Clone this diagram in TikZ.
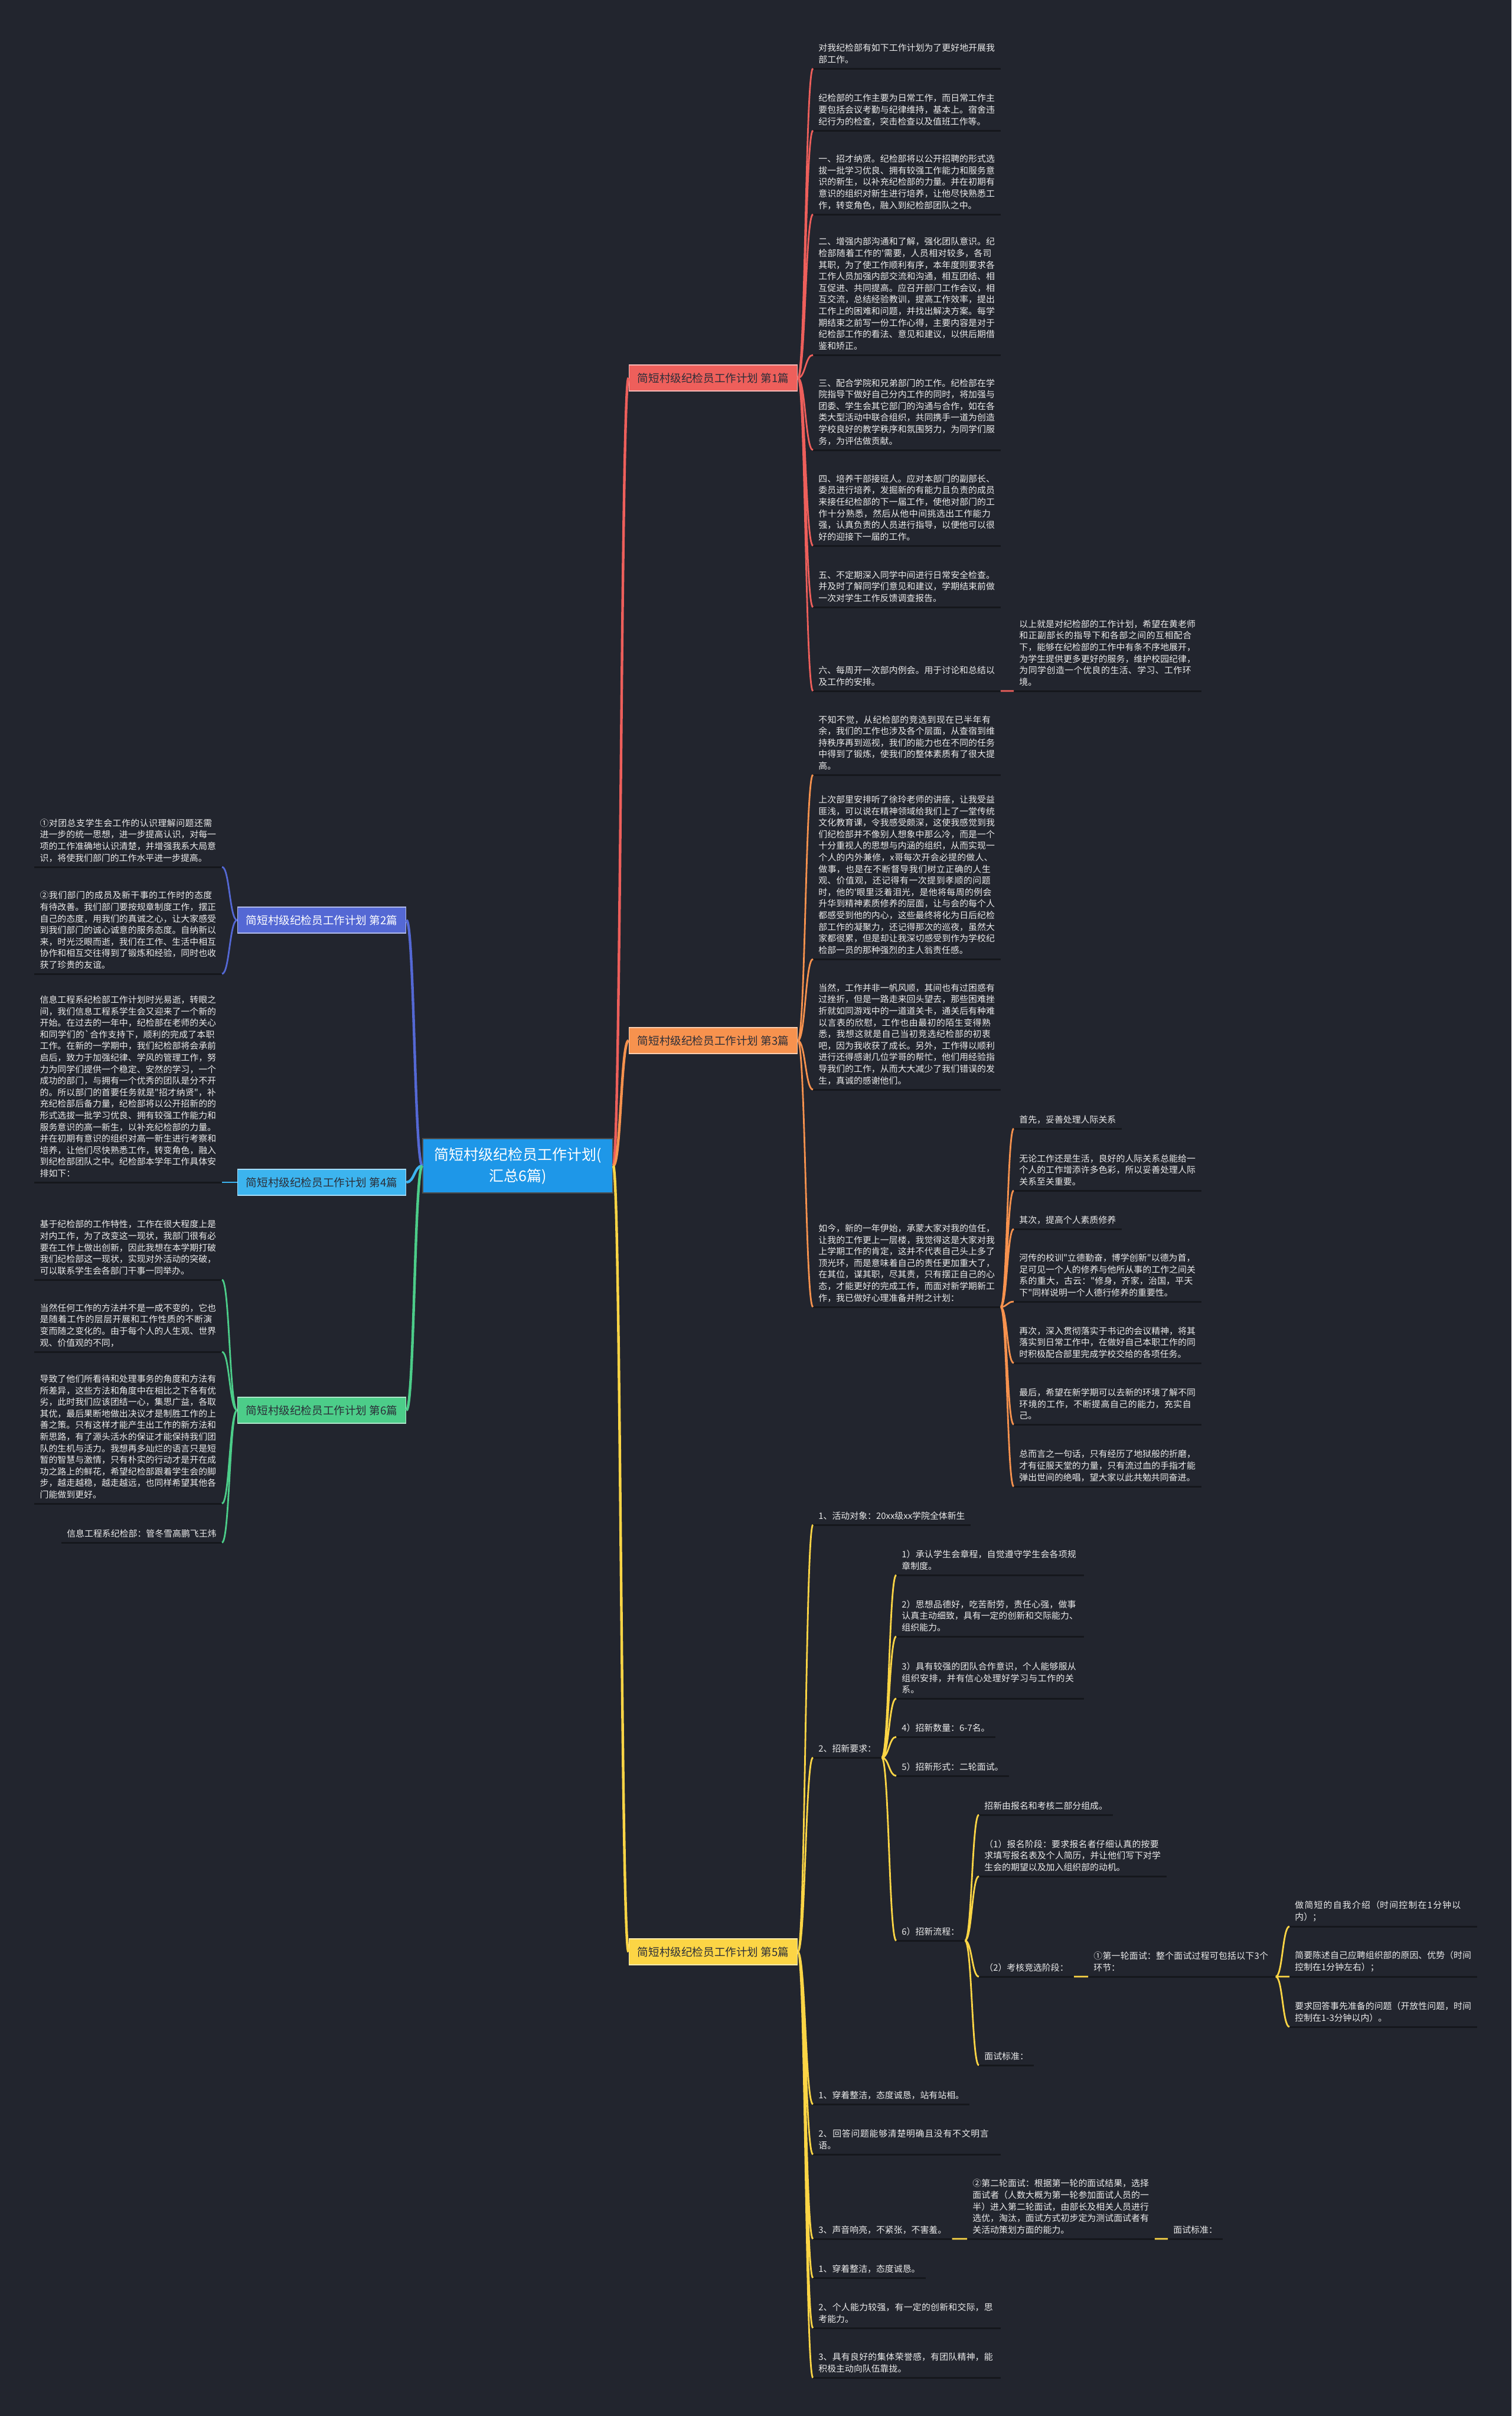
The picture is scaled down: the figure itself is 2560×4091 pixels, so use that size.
\documentclass[tikz,border=0pt]{standalone}
\usepackage{fontspec}
\newfontfamily\cjk{Noto Sans CJK SC}
\XeTeXlinebreaklocale "zh"
\XeTeXlinebreakskip=0pt plus 1pt
\usetikzlibrary{calc}

\definecolor{bgdark}{HTML}{22252E}
\definecolor{rootblue}{HTML}{1E97E8}
\definecolor{c1}{HTML}{EE5F5B}
\definecolor{c2}{HTML}{5468D4}
\definecolor{c3}{HTML}{F7924E}
\definecolor{c4}{HTML}{3CB4EF}
\definecolor{c5}{HTML}{FCD545}
\definecolor{c6}{HTML}{4CCD89}
\definecolor{leaftext}{HTML}{EBEBEB}
\definecolor{ulinec}{HTML}{15171C}
\definecolor{topicdark}{HTML}{2B2E38}

\tikzset{
  rootbox/.style={fill=rootblue, draw=black!70, line width=0.6pt, text=white, align=center,
    font=\cjk\fontsize{12.5}{18}\selectfont, minimum width=161pt, minimum height=46pt},
  topic/.style={fill=#1, draw=#1!45!white, line width=0.8pt, minimum width=142.5pt,
    minimum height=22pt, inner sep=0pt, font=\cjk\fontsize{9.3}{11}\selectfont},
  leaf/.style={font=\cjk\fontsize{7.45}{9.8}\selectfont, text=leaftext, inner xsep=4.5pt,
    inner ysep=4pt, align=left,
    append after command={(\tikzlastnode.south west) edge[draw=ulinec, line width=1.5pt] (\tikzlastnode.south east)}},
  rleaf/.style={leaf, anchor=south west, text width=149.5pt},
  rtag/.style={leaf, anchor=south west},
  lleaf/.style={leaf, anchor=south east, text width=149.5pt},
  ltag/.style={leaf, anchor=south east},
  link/.style={line width=1.4pt, to path={let \p1=(\tikztostart), \p2=(\tikztotarget) in
    .. controls ({(\x1+\x2)/2},\y1) and ({(\x1+\x2)/2},\y2) .. (\tikztotarget)}},
  trunk/.style={link, line width=2.2pt}
}

\begin{document}
\begin{tikzpicture}[x=0.5pt, y=-0.5pt]
      % Background
      \fill[bgdark] (0,0) rectangle (2560,4091);
      \useasboundingbox (0,0) rectangle (2560,4091);

      % Root and topics
      \node[rootbox] (plan) at (877,1974) {简短村级纪检员工作计划(\\汇总6篇)};
      \node[topic=c1, text=topicdark] (b1) at (1208,640) {简短村级纪检员工作计划 第1篇};
      \node[topic=c3, text=topicdark] (b3) at (1208,1762) {简短村级纪检员工作计划 第3篇};
      \node[topic=c5, text=topicdark] (b5) at (1208,3305) {简短村级纪检员工作计划 第5篇};
      \node[topic=c2, text=white] (b2) at (545,1558) {简短村级纪检员工作计划 第2篇};
      \node[topic=c4, text=topicdark] (b4) at (545,2002) {简短村级纪检员工作计划 第4篇};
      \node[topic=c6, text=topicdark] (b6) at (545,2388) {简短村级纪检员工作计划 第6篇};

      % Part 1
      \node[rleaf] (b1a) at (1377,116) {对我纪检部有如下工作计划为了更好地开展我部工作。};
      \node[rleaf] (b1b) at (1377,221) {纪检部的工作主要为日常工作，而日常工作主要包括会议考勤与纪律维持，基本上。宿舍违纪行为的检查，突击检查以及值班工作等。};
      \node[rleaf] (b1c) at (1377,363) {一、招才纳贤。纪检部将以公开招聘的形式选拔一批学习优良、拥有较强工作能力和服务意识的新生，以补充纪检部的力量。并在初期有意识的组织对新生进行培养，让他尽快熟悉工作，转变角色，融入到纪检部团队之中。};
      \node[rleaf] (b1d) at (1377,601) {二、增强内部沟通和了解，强化团队意识。纪检部随着工作的'需要，人员相对较多，各司其职，为了使工作顺利有序，本年度则要求各工作人员加强内部交流和沟通，相互团结、相互促进、共同提高。应召开部门工作会议，相互交流，总结经验教训，提高工作效率，提出工作上的困难和问题，并找出解决方案。每学期结束之前写一份工作心得，主要内容是对于纪检部工作的看法、意见和建议，以供后期借鉴和矫正。};
      \node[rleaf] (b1e) at (1377,762) {三、配合学院和兄弟部门的工作。纪检部在学院指导下做好自己分内工作的同时，将加强与团委、学生会其它部门的沟通与合作，如在各类大型活动中联合组织，共同携手一道为创造学校良好的教学秩序和氛围努力，为同学们服务，为评估做贡献。};
      \node[rleaf] (b1f) at (1377,924) {四、培养干部接班人。应对本部门的副部长、委员进行培养，发掘新的有能力且负责的成员来接任纪检部的下一届工作，使他对部门的工作十分熟悉，然后从他中间挑选出工作能力强，认真负责的人员进行指导，以便他可以很好的迎接下一届的工作。};
      \node[rleaf] (b1g) at (1377,1028) {五、不定期深入同学中间进行日常安全检查。并及时了解同学们意见和建议，学期结束前做一次对学生工作反馈调查报告。};
      \node[rleaf] (b1h) at (1377,1170) {六、每周开一次部内例会。用于讨论和总结以及工作的安排。};
      \node[rleaf] (b1i) at (1717,1170) {以上就是对纪检部的工作计划，希望在黄老师和正副部长的指导下和各部之间的互相配合下，能够在纪检部的工作中有条不序地展开，为学生提供更多更好的服务，维护校园纪律，为同学创造一个优良的生活、学习、工作环境。};

      % Part 3
      \node[rleaf] (b3a) at (1377,1312) {不知不觉，从纪检部的竞选到现在已半年有余，我们的工作也涉及各个层面，从查宿到维持秩序再到巡视，我们的能力也在不同的任务中得到了锻炼，使我们的整体素质有了很大提高。};
      \node[rleaf] (b3b) at (1377,1624) {上次部里安排听了徐玲老师的讲座，让我受益匪浅，可以说在精神领域给我们上了一堂传统文化教育课，令我感受颇深，这使我感觉到我们纪检部并不像别人想象中那么冷，而是一个十分重视人的思想与内涵的组织，从而实现一个人的内外兼修，x哥每次开会必提的做人、做事，也是在不断督导我们树立正确的人生观、价值观，还记得有一次提到孝顺的问题时，他的'眼里泛着泪光，是他将每周的例会升华到精神素质修养的层面，让与会的每个人都感受到他的内心，这些最终将化为日后纪检部工作的凝聚力，还记得那次的巡夜，虽然大家都很累，但是却让我深切感受到作为学校纪检部一员的那种强烈的主人翁责任感。};
      \node[rleaf] (b3c) at (1377,1845) {当然，工作并非一帆风顺，其间也有过困惑有过挫折，但是一路走来回头望去，那些困难挫折就如同游戏中的一道道关卡，通关后有种难以言表的欣慰，工作也由最初的陌生变得熟悉，我想这就是自己当初竞选纪检部的初衷吧，因为我收获了成长。另外，工作得以顺利进行还得感谢几位学哥的帮忙，他们用经验指导我们的工作，从而大大减少了我们错误的发生，真诚的感谢他们。};
      \node[rleaf] (b3d) at (1377,2213) {如今，新的一年伊始，承蒙大家对我的信任，让我的工作更上一层楼，我觉得这是大家对我上学期工作的肯定，这并不代表自己头上多了顶光环，而是意味着自己的责任更加重大了，在其位，谋其职，尽其责，只有摆正自己的心态，才能更好的完成工作，而面对新学期新工作，我已做好心理准备并附之计划：};
      \node[rtag] (b3e) at (1717,1911) {首先，妥善处理人际关系};
      \node[rleaf] (b3f) at (1717,2016) {无论工作还是生活，良好的人际关系总能给一个人的工作增添许多色彩，所以妥善处理人际关系至关重要。};
      \node[rtag] (b3g) at (1717,2081) {其次，提高个人素质修养};
      \node[rleaf] (b3h) at (1717,2204) {河传的校训"立德勤奋，博学创新"以德为首，足可见一个人的修养与他所从事的工作之间关系的重大，古云："修身，齐家，治国，平天下"同样说明一个人德行修养的重要性。};
      \node[rleaf] (b3i) at (1717,2308) {再次，深入贯彻落实于书记的会议精神，将其落实到日常工作中，在做好自己本职工作的同时积极配合部里完成学校交给的各项任务。};
      \node[rleaf] (b3j) at (1717,2412) {最后，希望在新学期可以去新的环境了解不同环境的工作，不断提高自己的能力，充实自己。};
      \node[rleaf] (b3k) at (1717,2517) {总而言之一句话，只有经历了地狱般的折磨，才有征服天堂的力量，只有流过血的手指才能弹出世间的绝唱，望大家以此共勉共同奋进。};

      % Part 5
      \node[rtag] (b5a) at (1377,2582) {1、活动对象：20xx级xx学院全体新生};
      \node[rtag] (b5b) at (1377,2976) {2、招新要求：};
      \node[rleaf] (b5q1) at (1518,2667) {1）承认学生会章程，自觉遵守学生会各项规章制度。};
      \node[rleaf] (b5q2) at (1518,2771) {2）思想品德好，吃苦耐劳，责任心强，做事认真主动细致，具有一定的创新和交际能力、组织能力。};
      \node[rleaf] (b5q3) at (1518,2876) {3）具有较强的团队合作意识，个人能够服从组织安排，并有信心处理好学习与工作的关系。};
      \node[rtag] (b5q4) at (1518,2941) {4）招新数量：6-7名。};
      \node[rtag] (b5q5) at (1518,3007) {5）招新形式：二轮面试。};
      \node[rtag] (b5q6) at (1518,3286) {6）招新流程：};
      \node[rtag] (b5p1) at (1658,3073) {招新由报名和考核二部分组成。};
      \node[rleaf] (b5p2) at (1658,3177) {（1）报名阶段：要求报名者仔细认真的按要求填写报名表及个人简历，并让他们写下对学生会的期望以及加入组织部的动机。};
      \node[rtag] (b5p3) at (1658,3347) {（2）考核竞选阶段：};
      \node[rtag] (b5p4) at (1658,3497) {面试标准：};
      \node[rleaf] (b5r1) at (1843,3347) {①第一轮面试：整个面试过程可包括以下3个环节：};
      \node[rleaf] (b5s1) at (2184,3262) {做简短的自我介绍（时间控制在1分钟以内）；};
      \node[rleaf] (b5s2) at (2184,3347) {简要陈述自己应聘组织部的原因、优势（时间控制在1分钟左右）；};
      \node[rleaf] (b5s3) at (2184,3432) {要求回答事先准备的问题（开放性问题，时间控制在1-3分钟以内）。};
      \node[rtag] (b5c) at (1377,3563) {1、穿着整洁，态度诚恳，站有站相。};
      \node[rleaf] (b5d) at (1377,3648) {2、回答问题能够清楚明确且没有不文明言语。};
      \node[rtag] (b5e) at (1377,3791) {3、声音响亮，不紧张，不害羞。};
      \node[rleaf] (b5r2) at (1638,3791) {②第二轮面试：根据第一轮的面试结果，选择面试者（人数大概为第一轮参加面试人员的一半）进入第二轮面试，由部长及相关人员进行选优，淘汰，面试方式初步定为测试面试者有关活动策划方面的能力。};
      \node[rtag] (b5t) at (1978,3791) {面试标准：};
      \node[rtag] (b5f) at (1377,3857) {1、穿着整洁，态度诚恳。};
      \node[rleaf] (b5g) at (1377,3942) {2、个人能力较强，有一定的创新和交际，思考能力。};
      \node[rleaf] (b5h) at (1377,4026) {3、具有良好的集体荣誉感，有团队精神，能积极主动向队伍靠拢。};

      % Part 2, 4, 6
      \node[lleaf] (b2a) at (376,1468) {①对团总支学生会工作的认识理解问题还需进一步的统一思想，进一步提高认识，对每一项的工作准确地认识清楚，并增强我系大局意识，将使我们部门的工作水平进一步提高。};
      \node[lleaf] (b2b) at (376,1649) {②我们部门的成员及新干事的工作时的态度有待改善。我们部门要按规章制度工作，摆正自己的态度，用我们的真诚之心，让大家感受到我们部门的诚心诚意的服务态度。自纳新以来，时光泛眼而逝，我们在工作、生活中相互协作和相互交往得到了锻炼和经验，同时也收获了珍贵的友谊。};
      \node[lleaf] (b4a) at (376,2002) {信息工程系纪检部工作计划时光易逝，转眼之间，我们信息工程系学生会又迎来了一个新的开始。在过去的一年中，纪检部在老师的关心和同学们的`合作支持下，顺利的完成了本职工作。在新的一学期中，我们纪检部将会承前启后，致力于加强纪律、学风的管理工作，努力为同学们提供一个稳定、安然的学习，一个成功的部门，与拥有一个优秀的团队是分不开的。所以部门的首要任务就是"招才纳贤"，补充纪检部后备力量，纪检部将以公开招新的的形式选拔一批学习优良、拥有较强工作能力和服务意识的高一新生，以补充纪检部的力量。并在初期有意识的组织对高一新生进行考察和培养，让他们尽快熟悉工作，转变角色，融入到纪检部团队之中。纪检部本学年工作具体安排如下：};
      \node[lleaf] (b6a) at (376,2167) {基于纪检部的工作特性，工作在很大程度上是对内工作，为了改变这一现状，我部门很有必要在工作上做出创新，因此我想在本学期打破我们纪检部这一现状，实现对外活动的突破，可以联系学生会各部门干事一同举办。};
      \node[lleaf] (b6b) at (376,2289) {当然任何工作的方法并不是一成不变的，它也是随着工作的层层开展和工作性质的不断演变而随之变化的。由于每个人的人生观、世界观、价值观的不同，};
      \node[lleaf] (b6c) at (376,2546) {导致了他们所看待和处理事务的角度和方法有所差异，这些方法和角度中在相比之下各有优劣，此时我们应该团结一心，集思广益，各取其优，最后果断地做出决议才是制胜工作的上善之策。只有这样才能产生出工作的新方法和新思路，有了源头活水的保证才能保持我们团队的生机与活力。我想再多灿烂的语言只是短暂的智慧与激情，只有朴实的行动才是开在成功之路上的鲜花，希望纪检部跟着学生会的脚步，越走越稳，越走越远，也同样希望其他各门能做到更好。};
      \node[ltag] (b6d) at (376,2612) {信息工程系纪检部：管冬雪高鹏飞王炜};

      % Trunks
      \draw[trunk, c1] (plan.east) to (b1.west);
      \draw[trunk, c3] (plan.east) to (b3.west);
      \draw[trunk, c5] (plan.east) to (b5.west);
      \draw[trunk, c2] (plan.west) to (b2.east);
      \draw[trunk, c4] (plan.west) to (b4.east);
      \draw[trunk, c6] (plan.west) to (b6.east);

      % Links
      \draw[link, c1] (b1.east) to (b1a.south west) (b1.east) to (b1b.south west)
        (b1.east) to (b1c.south west) (b1.east) to (b1d.south west)
        (b1.east) to (b1e.south west) (b1.east) to (b1f.south west)
        (b1.east) to (b1g.south west) (b1.east) to (b1h.south west)
        (b1h.south east) to (b1i.south west);
      \draw[link, c3] (b3.east) to (b3a.south west) (b3.east) to (b3b.south west)
        (b3.east) to (b3c.south west) (b3.east) to (b3d.south west)
        (b3d.south east) to (b3e.south west) (b3d.south east) to (b3f.south west)
        (b3d.south east) to (b3g.south west) (b3d.south east) to (b3h.south west)
        (b3d.south east) to (b3i.south west) (b3d.south east) to (b3j.south west)
        (b3d.south east) to (b3k.south west);
      \draw[link, c5] (b5.east) to (b5a.south west) (b5.east) to (b5b.south west)
        (b5.east) to (b5c.south west) (b5.east) to (b5d.south west)
        (b5.east) to (b5e.south west) (b5.east) to (b5f.south west)
        (b5.east) to (b5g.south west) (b5.east) to (b5h.south west);
      \draw[link, c5] (b5b.south east) to (b5q1.south west) (b5b.south east) to (b5q2.south west)
        (b5b.south east) to (b5q3.south west) (b5b.south east) to (b5q4.south west)
        (b5b.south east) to (b5q5.south west) (b5b.south east) to (b5q6.south west)
        (b5q6.south east) to (b5p1.south west) (b5q6.south east) to (b5p2.south west)
        (b5q6.south east) to (b5p3.south west) (b5q6.south east) to (b5p4.south west)
        (b5p3.south east) to (b5r1.south west)
        (b5r1.south east) to (b5s1.south west) (b5r1.south east) to (b5s2.south west)
        (b5r1.south east) to (b5s3.south west)
        (b5e.south east) to (b5r2.south west) (b5r2.south east) to (b5t.south west);
      \draw[link, c2] (b2.west) to (b2a.south east) (b2.west) to (b2b.south east);
      \draw[link, c4] (b4.west) to (b4a.south east);
      \draw[link, c6] (b6.west) to (b6a.south east) (b6.west) to (b6b.south east)
        (b6.west) to (b6c.south east) (b6.west) to (b6d.south east);
\end{tikzpicture}
\end{document}
